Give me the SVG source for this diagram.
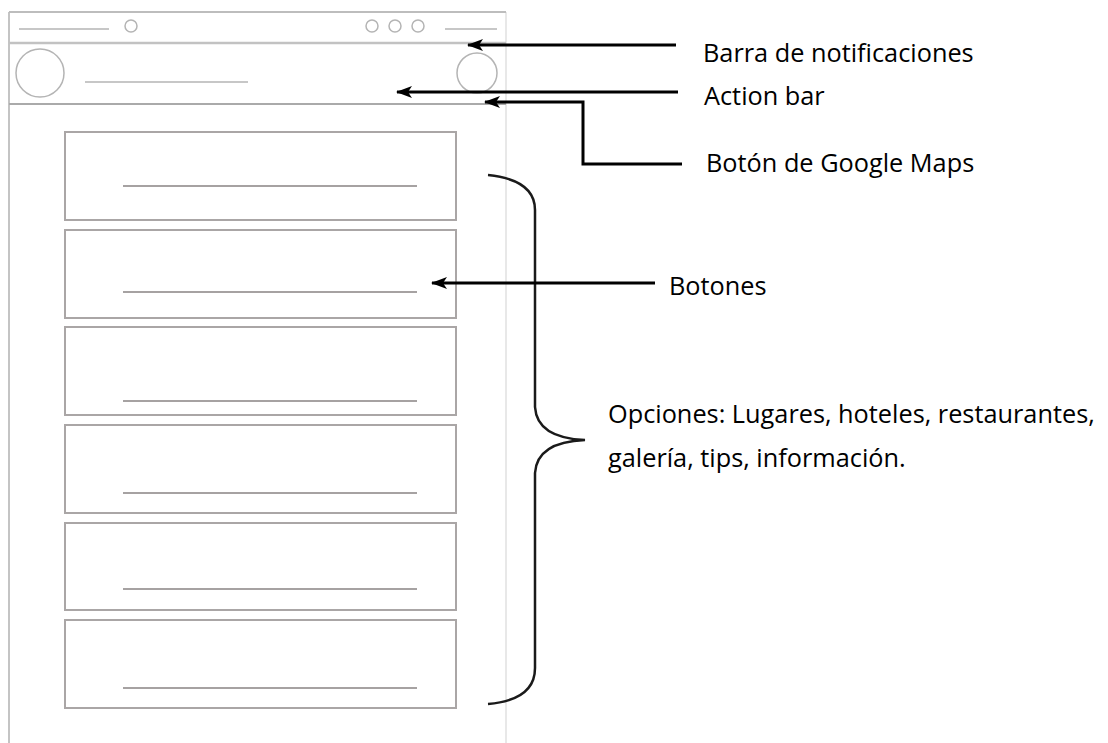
<svg xmlns="http://www.w3.org/2000/svg" width="1108" height="743" viewBox="0 0 1108 743">
<defs>
<style>
.frame{fill:none;stroke:#c4c4c4;stroke-width:2}
.thin{fill:none;stroke:#b4b4b4;stroke-width:1.5}
.btn{fill:#fff;stroke:#aaa6a6;stroke-width:2}
.bl{stroke:#a6a2a2;stroke-width:2}
.conn{fill:none;stroke:#000;stroke-width:3}
.lbl{font-family:"Open Sans","Noto Sans",sans-serif;font-size:25.3px;fill:#000}
</style>
<marker id="ah" viewBox="0 0 16 12" refX="15" refY="6" markerWidth="16" markerHeight="12" markerUnits="userSpaceOnUse" orient="auto">
<path d="M0,0 L16,6 L0,12 L4,6 Z" fill="#000"/>
</marker>
</defs>
<rect width="1108" height="743" fill="#fff"/>
<g id="phone">
<line x1="9" y1="12" x2="9" y2="743" class="frame"/>
<line x1="506" y1="12" x2="506" y2="743" stroke="#e8e8e8" stroke-width="2"/>
<line x1="9" y1="12" x2="506" y2="12" stroke="#bdbdbd" stroke-width="2"/>
</g>
<g id="status-bar">
<line x1="19" y1="29" x2="109" y2="29" class="thin"/>
<circle cx="131" cy="26" r="6" class="thin"/>
<circle cx="372" cy="26" r="6" class="thin"/>
<circle cx="395" cy="26" r="6" class="thin"/>
<circle cx="418" cy="26" r="6" class="thin"/>
<line x1="445" y1="29" x2="497" y2="29" class="thin"/>
<line x1="9" y1="43" x2="506" y2="43" stroke="#c2c2c2" stroke-width="2.5"/>
</g>
<g id="action-bar">
<circle cx="40" cy="73" r="24" class="thin"/>
<line x1="85" y1="82" x2="248" y2="82" class="thin"/>
<circle cx="477" cy="73" r="20" class="thin"/>
<line x1="9" y1="104" x2="506" y2="104" stroke="#aaa" stroke-width="2"/>
</g>
<g id="button-1"><rect x="65" y="132" width="391" height="88" class="btn"/><line x1="123" y1="186" x2="417" y2="186" class="bl"/></g>
<g id="button-2"><rect x="65" y="230" width="391" height="88" class="btn"/><line x1="123" y1="292" x2="417" y2="292" class="bl"/></g>
<g id="button-3"><rect x="65" y="327" width="391" height="88" class="btn"/><line x1="123" y1="401" x2="417" y2="401" class="bl"/></g>
<g id="button-4"><rect x="65" y="425" width="391" height="88" class="btn"/><line x1="123" y1="493" x2="417" y2="493" class="bl"/></g>
<g id="button-5"><rect x="65" y="523" width="391" height="87" class="btn"/><line x1="123" y1="589" x2="417" y2="589" class="bl"/></g>
<g id="button-6"><rect x="65" y="620" width="391" height="88" class="btn"/><line x1="123" y1="688" x2="417" y2="688" class="bl"/></g>
<g id="brace">
<path d="M488,175 Q535,180 535,210 L535,407 Q537,438 585,440 Q537,442 535,473 L535,668 Q535,700 488,704" fill="none" stroke="#1a1a1a" stroke-width="2.5"/>
</g>
<g id="connectors">
<path d="M676,45 L468,45" class="conn" marker-end="url(#ah)"/>
<path d="M678,92 L397,92" class="conn" marker-end="url(#ah)"/>
<path d="M682,164 L583,164 L583,102 L485,102" class="conn" marker-end="url(#ah)"/>
<path d="M655,283 L432,283" class="conn" marker-end="url(#ah)"/>
</g>
<g id="labels">
<text x="703" y="62" class="lbl">Barra de notificaciones</text>
<text x="704" y="105" class="lbl">Action bar</text>
<text x="706" y="172" class="lbl">Botón de Google Maps</text>
<text x="669" y="295" class="lbl">Botones</text>
<text x="608" y="423" class="lbl">Opciones: Lugares, hoteles, restaurantes,</text>
<text x="608" y="467" class="lbl">galería, tips, información.</text>
</g>
</svg>
